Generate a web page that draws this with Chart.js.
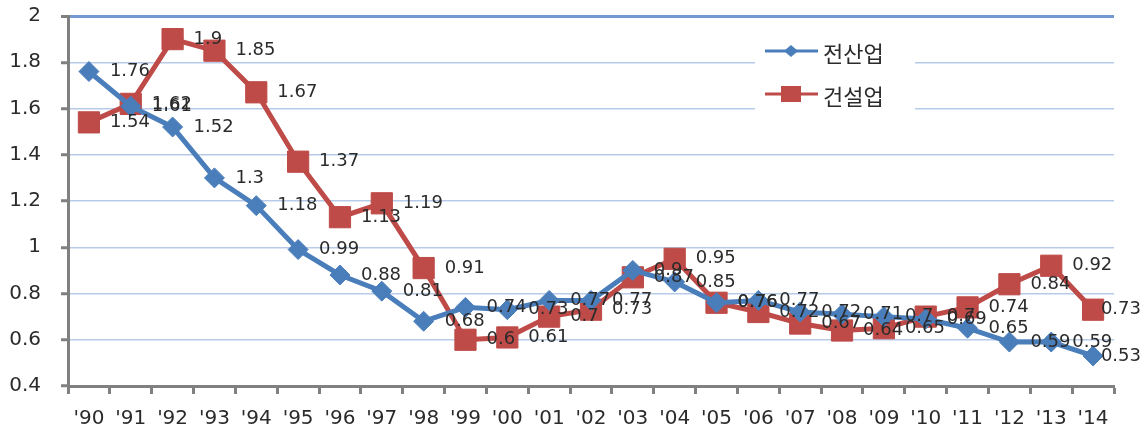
<!DOCTYPE html>
<html>
<head>
<meta charset="utf-8">
<script src="https://cdn.jsdelivr.net/npm/chart.js@4/dist/chart.umd.min.js"></script>
<style>
  body { margin: 0; background: #fff; }
  canvas { display: block; }
</style>
</head>
<body>
<canvas id="chart" width="1145" height="434"></canvas>
<script>
const years = ["'90", "'91", "'92", "'93", "'94", "'95", "'96", "'97", "'98", "'99", "'00", "'01", "'02",
  "'03", "'04", "'05", "'06", "'07", "'08", "'09", "'10", "'11", "'12", "'13", "'14"];
const allIndustry = [1.76, 1.61, 1.52, 1.3, 1.18, 0.99, 0.88, 0.81, 0.68, 0.74, 0.73, 0.77, 0.77,
  0.9, 0.85, 0.76, 0.77, 0.72, 0.71, 0.7, 0.69, 0.65, 0.59, 0.59, 0.53];
const construction = [1.54, 1.62, 1.9, 1.85, 1.67, 1.37, 1.13, 1.19, 0.91, 0.6, 0.61, 0.7, 0.73,
  0.87, 0.95, 0.76, 0.72, 0.67, 0.64, 0.65, 0.7, 0.74, 0.84, 0.92, 0.73];
const yTicks = [0.4, 0.6, 0.8, 1, 1.2, 1.4, 1.6, 1.8, 2];

const BLUE = '#4a7ebb';
const RED = '#be4b48';
const TEXT = '#2b2b2b';

// value labels to the right of every point
const valueLabels = {
  id: 'valueLabels',
  afterDatasetsDraw(chart) {
    const ctx = chart.ctx;
    ctx.save();
    ctx.font = '18px "DejaVu Sans"';
    ctx.fillStyle = TEXT;
    ctx.textAlign = 'left';
    ctx.textBaseline = 'middle';
    chart.data.datasets.forEach((ds, i) => {
      chart.getDatasetMeta(i).data.forEach((pt, j) => {
        const txt = String(ds.data[j]);
        const w = ctx.measureText(txt).width;
        let x = pt.x + 21;
        if (x + w > chart.width - 4) x = chart.width - 4 - w;
        ctx.fillText(txt, x, pt.y);
      });
    });
    ctx.restore();
  }
};

// excel-like legend box sitting inside the plot
const boxLegend = {
  id: 'boxLegend',
  afterDraw(chart) {
    const ctx = chart.ctx;
    const left = 755, top = 30;
    ctx.save();
    ctx.fillStyle = '#fff';
    ctx.fillRect(left, top, 160, 90);
    chart.data.datasets.forEach((ds, i) => {
      const y = 51 + i * 43;
      ctx.strokeStyle = ds.borderColor;
      ctx.lineWidth = 3;
      ctx.beginPath();
      ctx.moveTo(left + 10, y);
      ctx.lineTo(left + 63, y);
      ctx.stroke();
      ctx.fillStyle = ds.backgroundColor;
      const cx = left + 36;
      if (ds.pointStyle === 'rectRot') {
        ctx.beginPath();
        ctx.moveTo(cx, y - 6);
        ctx.lineTo(cx + 7, y);
        ctx.lineTo(cx, y + 6);
        ctx.lineTo(cx - 7, y);
        ctx.closePath();
        ctx.fill();
      } else {
        ctx.fillRect(cx - 10, y - 8, 20, 16);
      }
      ctx.fillStyle = TEXT;
      ctx.font = '22px "Noto Sans CJK KR"';
      ctx.textAlign = 'left';
      ctx.textBaseline = 'middle';
      ctx.fillText(ds.label, left + 68, y + 3);
    });
    ctx.restore();
  }
};

new Chart(document.getElementById('chart').getContext('2d'), {
  type: 'line',
  data: {
    labels: years,
    datasets: [
      {
        label: '전산업',
        data: allIndustry,
        borderColor: BLUE,
        backgroundColor: BLUE,
        borderWidth: 5,
        pointStyle: 'rectRot',
        pointRadius: 10,
        pointBorderWidth: 1,
        tension: 0
      },
      {
        label: '건설업',
        data: construction,
        borderColor: RED,
        backgroundColor: RED,
        borderWidth: 5,
        pointStyle: 'rect',
        pointRadius: 15,
        pointBorderWidth: 1,
        tension: 0
      }
    ]
  },
  options: {
    responsive: false,
    animation: false,
    devicePixelRatio: 1,
    layout: { padding: { top: 13, right: 31, left: 0, bottom: 0 } },
    plugins: {
      legend: { display: false },
      tooltip: { enabled: false }
    },
    scales: {
      x: {
        offset: true,
        grid: {
          offset: true,
          drawOnChartArea: false,
          drawTicks: true,
          tickLength: 8,
          tickColor: '#808080',
          tickWidth: 3
        },
        border: { display: true, color: '#808080', width: 3 },
        ticks: {
          color: TEXT,
          font: { family: 'DejaVu Sans', size: 20 },
          padding: 13,
          maxRotation: 0,
          autoSkip: false
        },
        afterFit(scale) {
          scale.height = 48;
          scale.paddingLeft = 0;
          scale.paddingRight = 0;
        }
      },
      y: {
        min: 0.4,
        max: 2,
        afterBuildTicks(scale) { scale.ticks = yTicks.map(v => ({ value: v })); },
        grid: {
          color: (c) => c.tick && c.tick.value === 2 ? '#7399d0' : '#b7cbe8',
          lineWidth: (c) => c.tick && c.tick.value === 2 ? 3 : 1.5,
          tickLength: 7,
          tickColor: '#808080',
          tickWidth: 3
        },
        border: { display: true, color: '#808080', width: 3 },
        ticks: {
          color: TEXT,
          font: { family: 'DejaVu Sans', size: 20 },
          padding: 20,
          callback: (v) => String(Number(v.toFixed(1)))
        },
        afterFit(scale) {
          scale.width = 68;
          scale.paddingTop = 0;
          scale.paddingBottom = 0;
        }
      }
    }
  },
  plugins: [valueLabels, boxLegend]
});
</script>
</body>
</html>
